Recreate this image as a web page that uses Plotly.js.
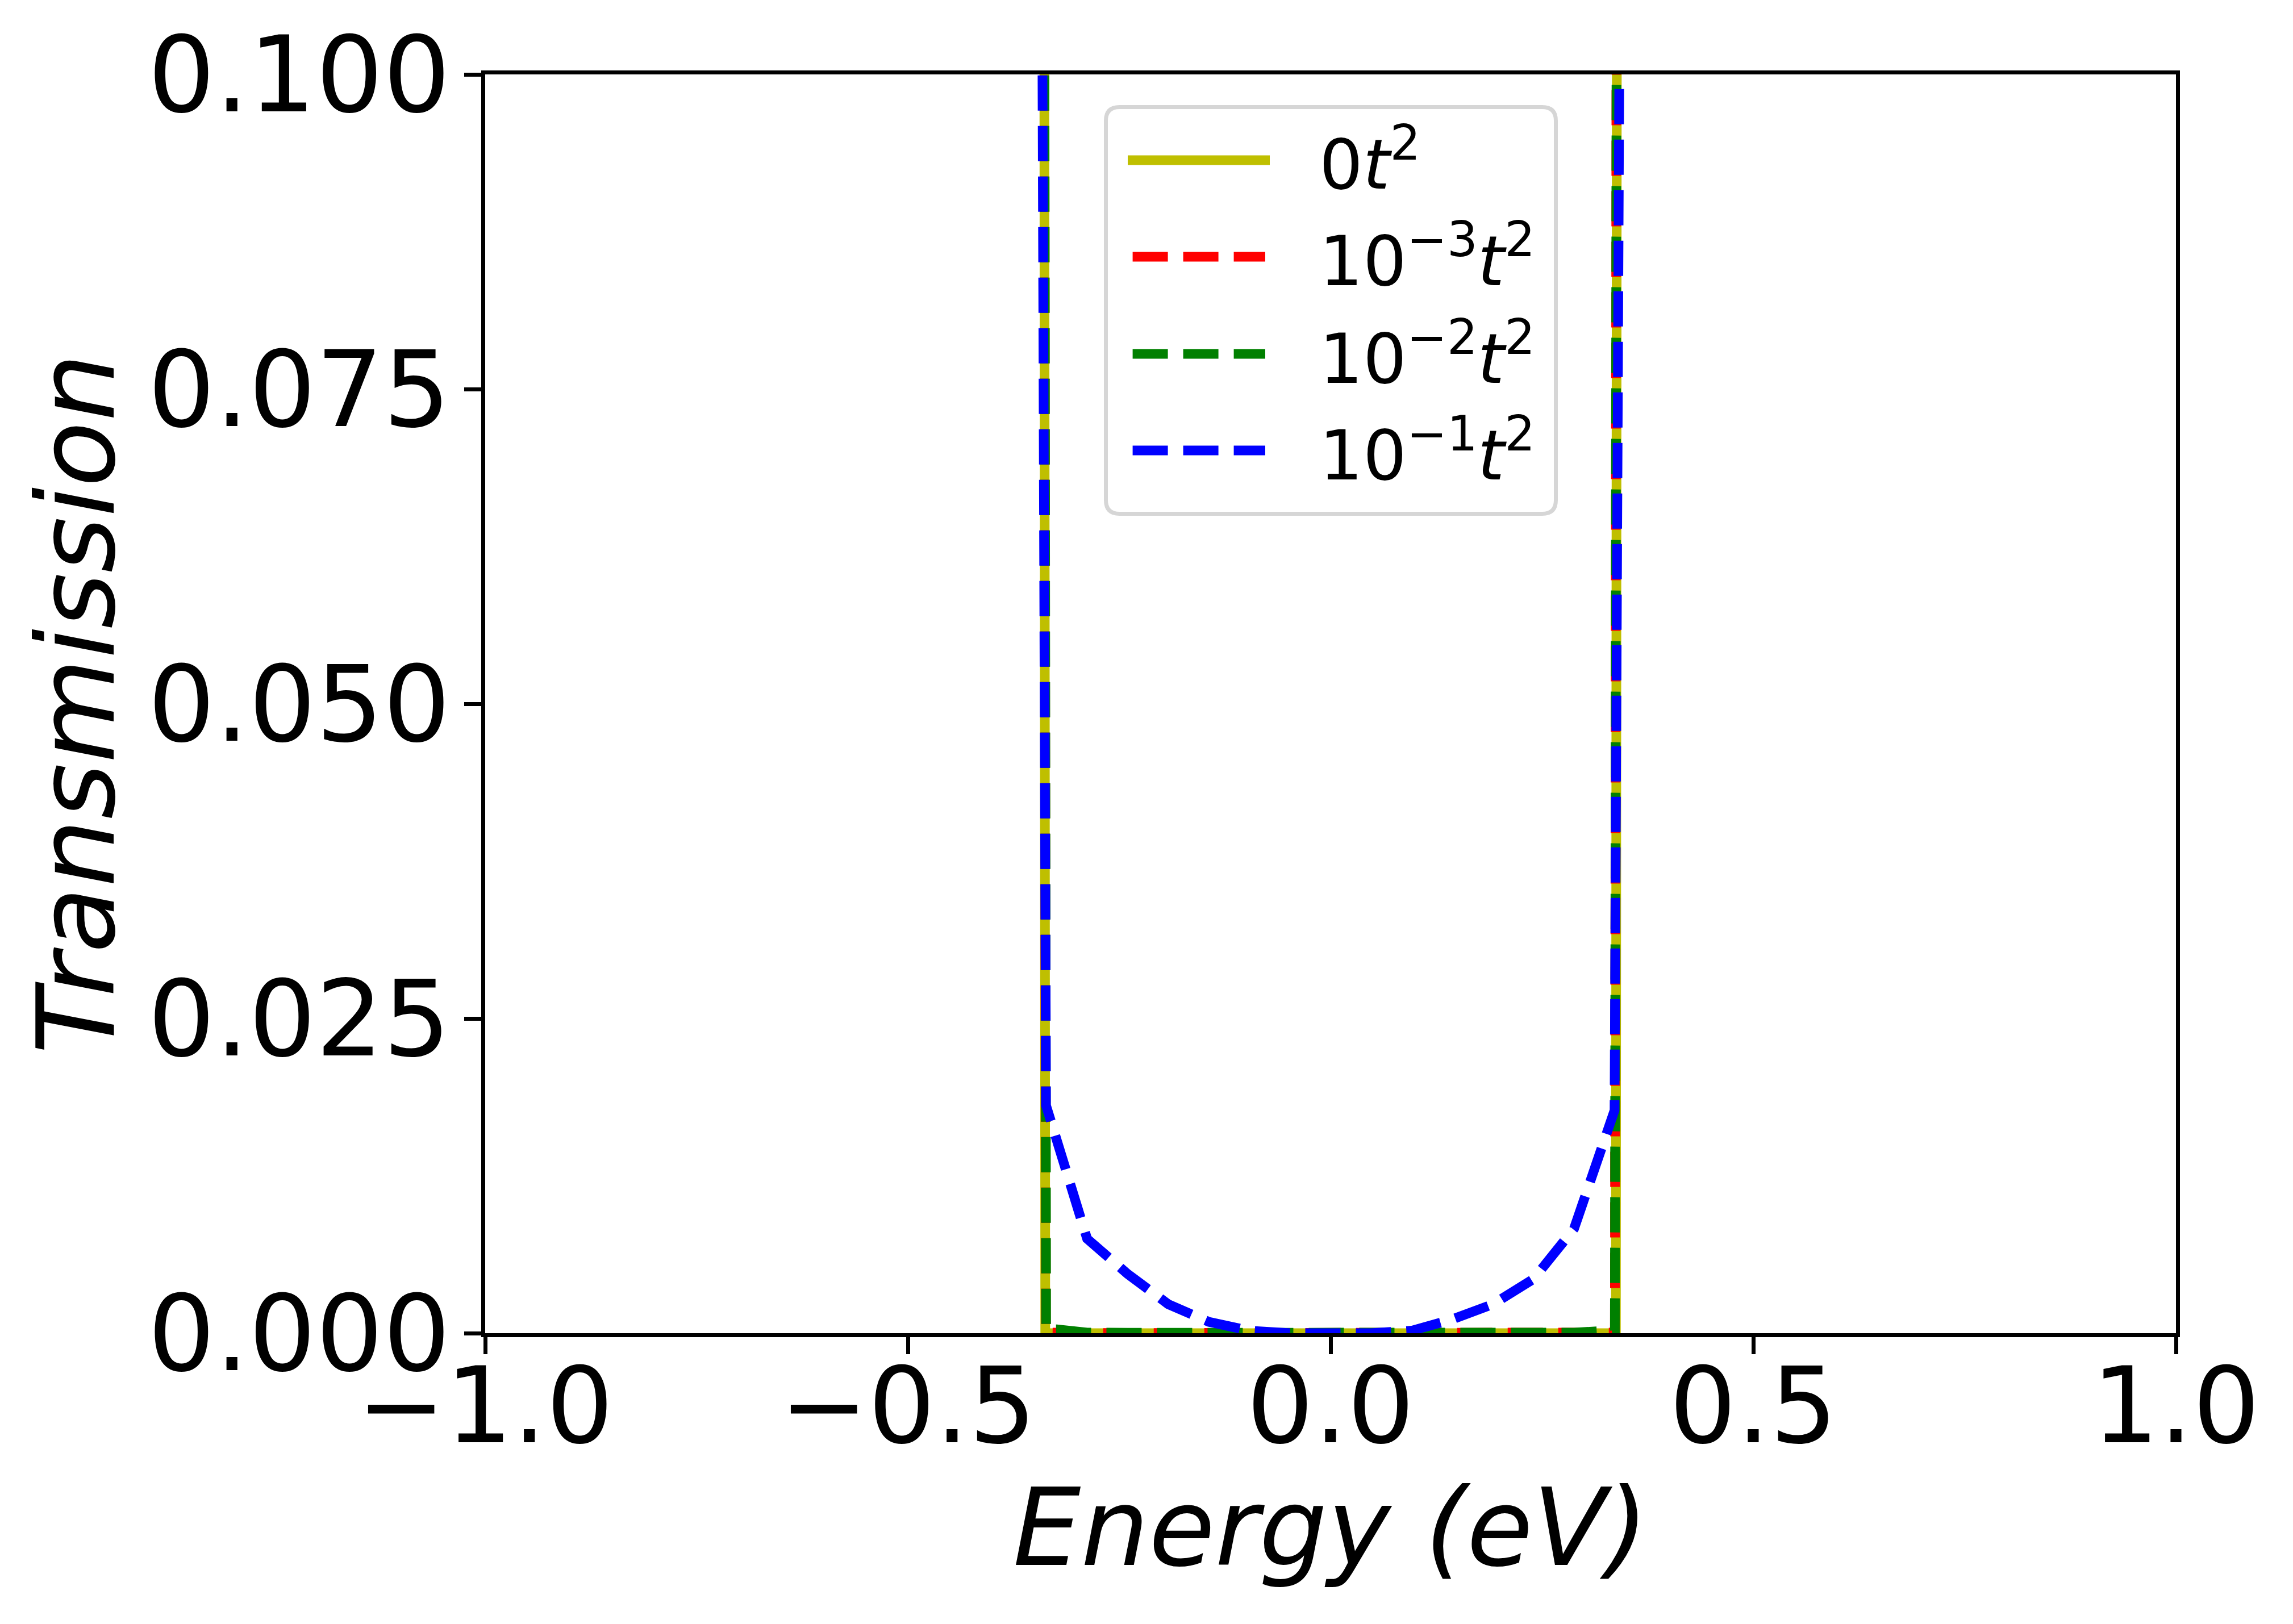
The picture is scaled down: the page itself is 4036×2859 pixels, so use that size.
<!DOCTYPE html>
<html>
<head>
<meta charset="utf-8">
<script src="https://cdn.plot.ly/plotly-3.0.1.min.js"></script>
<style>
	html, body { margin: 0; padding: 0; background: #ffffff; overflow: hidden; }
	#plotter { width: 4036px; height: 2859px; }
</style>
</head>
<body>
<div id="plotter"></div>
<script>
// energy grid (eV) and transmission, one pair per coupling
const energy0 = [-0.3388, -0.3375, -0.288, -0.240, -0.192, -0.144, -0.096, -0.048, 0, 0.048, 0.096, 0.144, 0.192, 0.240, 0.288, 0.3375, 0.3388];
const trans0 = [0.12, 0, 0, 0, 0, 0, 0, 0, 0, 0, 0, 0, 0, 0, 0, 0, 0.12];

const energy3 = [-0.3388, -0.3368, -0.288, -0.240, -0.192, -0.144, -0.096, -0.048, 0, 0.048, 0.096, 0.144, 0.192, 0.240, 0.288, 0.3363, 0.3385];
const trans3 = [0.12, 0.00005, 0.00001, 0, 0, 0, 0, 0, 0, 0, 0, 0, 0, 0, 0.00001, 0.00005, 0.12];

const energy2 = [-0.3388, -0.3365, -0.324, -0.288, -0.240, -0.192, -0.144, -0.096, -0.048, 0, 0.048, 0.096, 0.144, 0.192, 0.240, 0.288, 0.331, 0.3363, 0.3386];
const trans2 = [0.12, 0.0003, 0.0003, 0.00005, 0.00003, 0.00002, 0.00001, 0, 0, 0, 0, 0, 0.00001, 0.00002, 0.00003, 0.00005, 0.0002, 0.0002, 0.12];

const energy1 = [-0.3418, -0.3366, -0.288, -0.240, -0.192, -0.144, -0.096, -0.048, 0, 0.048, 0.096, 0.144, 0.192, 0.240, 0.288, 0.3359, 0.3429];
const trans1 = [0.12, 0.0181, 0.0075, 0.0047, 0.0023, 0.0009, 0.0002, 0, 0, 0, 0.0002, 0.0011, 0.0023, 0.0043, 0.0083, 0.0177, 0.12];

const seriesNames = ['0<i>t</i><sup>2</sup>', '10<sup>−3</sup><i>t</i><sup>2</sup>', '10<sup>−2</sup><i>t</i><sup>2</sup>', '10<sup>−1</sup><i>t</i><sup>2</sup>'];
const seriesColors = ['#bfbf00', '#ff0000', '#008000', '#0000ff'];
const seriesDash = ['solid', '62px,27px', '62px,27px', '62px,27px'];

const xTickVals = [-1, -0.5, 0, 0.5, 1];
const xTickText = ['−1.0', '−0.5', '0.0', '0.5', '1.0'];
const yTickVals = [0, 0.025, 0.05, 0.075, 0.1];
const yTickText = ['0.000', '0.025', '0.050', '0.075', '0.100'];
const xTitle = '<i>Energy (eV)</i>';
const yTitle = '<i>Transmission</i>';

// figure geometry, pixels
const W = 4036, H = 2859;
const M = { l: 854, r: 206, t: 131, b: 512 };
const plotW = W - M.l - M.r;
const plotH = H - M.t - M.b;
const px = v => (v - M.l) / plotW;
const py = v => (H - M.b - v) / plotH;
const font = 'DejaVu Sans, sans-serif';

const xs = [energy0, energy3, energy2, energy1];
const ys = [trans0, trans3, trans2, trans1];

const data = xs.map((x, i) => ({
	x: x,
	y: ys[i],
	name: seriesNames[i],
	type: 'scatter',
	mode: 'lines',
	line: { color: seriesColors[i], width: 17, dash: seriesDash[i] },
	showlegend: false,
	hoverinfo: 'skip',
}));

function roundedBox(l, t, r, b, rad) {
	const L = px(l), R = px(r), T = py(t), B = py(b);
	const rx = rad / plotW, ry = rad / plotH;
	return `M${L + rx},${T} L${R - rx},${T} Q${R},${T} ${R},${T - ry} ` +
		`L${R},${B + ry} Q${R},${B} ${R - rx},${B} L${L + rx},${B} ` +
		`Q${L},${B} ${L},${B + ry} L${L},${T - ry} Q${L},${T} ${L + rx},${T} Z`;
}

// hand made legend, matplotlib style
const shapes = [{
	type: 'path',
	xref: 'paper', yref: 'paper',
	path: roundedBox(1946.5, 188.5, 2738.5, 904.5, 24),
	fillcolor: '#ffffff',
	line: { color: '#d6d6d6', width: 7 },
	layer: 'above',
}];
const rowY = [282, 452, 623, 793];

// axis titles as annotations so they can sit where matplotlib put them
const annotations = [{
	xref: 'paper', yref: 'paper',
	x: px(2342), y: py(2690),
	xanchor: 'center', yanchor: 'middle',
	text: xTitle,
	showarrow: false,
	font: { family: font, size: 189, color: '#000000' },
}, {
	xref: 'paper', yref: 'paper',
	x: px(135), y: py(1239),
	xanchor: 'center', yanchor: 'middle',
	textangle: -90,
	text: yTitle,
	showarrow: false,
	font: { family: font, size: 189, color: '#000000' },
}];

data.forEach((trace, i) => {
	const solid = seriesDash[i] === 'solid';
	shapes.push({
		type: 'line',
		xref: 'paper', yref: 'paper',
		x0: px(solid ? 1985 : 1993.6), x1: px(solid ? 2235 : 2227),
		y0: py(rowY[i]), y1: py(rowY[i]),
		line: { color: seriesColors[i], width: 17, dash: seriesDash[i] },
		layer: 'above',
	});
	annotations.push({
		xref: 'paper', yref: 'paper',
		x: px(2320), y: py(rowY[i]),
		xanchor: 'left', yanchor: 'middle',
		text: trace.name,
		showarrow: false,
		font: { family: font, size: 121, color: '#000000' },
	});
});

const axisBase = {
	showline: true,
	linecolor: '#000000',
	linewidth: 7,
	mirror: true,
	ticks: 'outside',
	ticklen: 30,
	tickwidth: 7,
	tickcolor: '#000000',
	showgrid: false,
	zeroline: false,
	automargin: false,
	tickfont: { family: font, size: 186, color: '#000000' },
	tickmode: 'array',
};

const layout = {
	width: W,
	height: H,
	margin: M,
	paper_bgcolor: '#ffffff',
	plot_bgcolor: '#ffffff',
	showlegend: false,
	xaxis: Object.assign({}, axisBase, {
		range: [-1, 1],
		tickvals: xTickVals,
		ticktext: xTickText,
		ticklabelstandoff: -68,
	}),
	yaxis: Object.assign({}, axisBase, {
		range: [0, 0.1],
		tickvals: yTickVals,
		ticktext: yTickText,
		ticklabelstandoff: -13,
	}),
	shapes: shapes,
	annotations: annotations,
};

Plotly.newPlot('plotter', data, layout, { displaylogo: false, displayModeBar: false, staticPlot: true });
</script>
</body>
</html>
